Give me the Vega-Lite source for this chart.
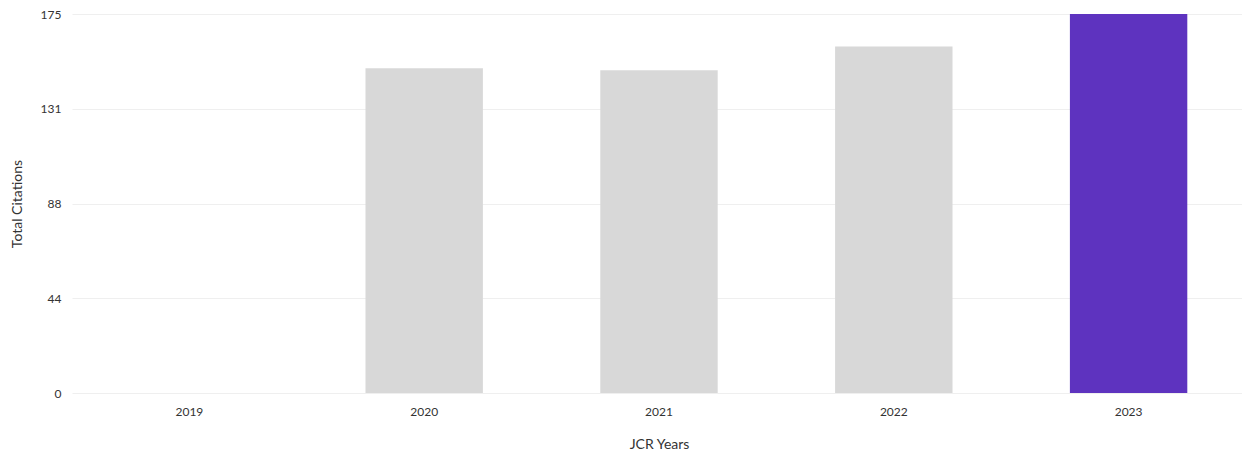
{
  "$schema": "https://vega.github.io/schema/vega-lite/v6.json",
  "autosize": "none",
  "padding": {"left": 72, "top": 14, "right": 0, "bottom": 64},
  "width": 1174,
  "height": 379,
  "background": "white",
  "config": {"view": {"stroke": null}, "font": "Lato"},
  "data": {"values": [
    {"year": "2019", "citations": 0, "current": "no"},
    {"year": "2020", "citations": 150, "current": "no"},
    {"year": "2021", "citations": 149, "current": "no"},
    {"year": "2022", "citations": 160, "current": "no"},
    {"year": "2023", "citations": 175, "current": "yes"}
  ]},
  "mark": {"type": "bar"},
  "encoding": {
    "x": {
      "field": "year", "type": "ordinal", "title": "JCR Years",
      "scale": {"paddingInner": 0.5, "paddingOuter": 0.25},
      "axis": {"labelAngle": 0, "ticks": false, "domain": false, "labelPadding": 13,
               "labelFontSize": 12, "labelColor": "#333", "titleFontSize": 14,
               "titleFontWeight": "normal", "titleColor": "#333", "titlePadding": 20}
    },
    "y": {
      "field": "citations", "type": "quantitative", "title": "Total Citations",
      "scale": {"domain": [0, 175], "nice": false},
      "axis": {"values": [0, 43.75, 87.5, 131.25, 175], "format": "d", "ticks": false, "domain": false,
               "gridColor": "#efefef", "labelPadding": 11, "labelFontSize": 12, "labelColor": "#333",
               "titleFontSize": 14, "titleFontWeight": "normal", "titleColor": "#333", "titlePadding": 16}
    },
    "color": {
      "field": "current", "type": "nominal",
      "scale": {"domain": ["no", "yes"], "range": ["#d8d8d8", "#5e33bf"]},
      "legend": null
    }
  }
}
